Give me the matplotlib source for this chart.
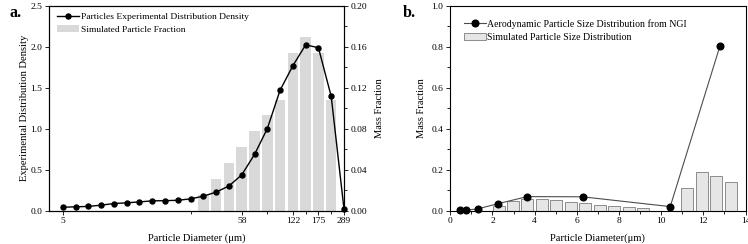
import matplotlib
matplotlib.use("Agg")
import matplotlib.pyplot as plt
import numpy as np
from matplotlib.ticker import MultipleLocator, FixedLocator

plt.rcParams['font.family'] = ['Liberation Serif', 'DejaVu Serif']
plt.rcParams['mathtext.fontset'] = 'stix'

# ---------- Panel a data ----------
a_density = [0.04, 0.045, 0.05, 0.065, 0.085, 0.094, 0.105, 0.118, 0.12, 0.125,
             0.142, 0.175, 0.225, 0.30, 0.435, 0.685, 1.0, 1.47, 1.77, 2.025,
             1.99, 1.395, 0.016]
a_bar_index = [11, 12, 13, 14, 15, 16, 17, 18, 19, 20, 21]
a_mass = [0.015, 0.031, 0.0465, 0.062, 0.0775, 0.093, 0.108, 0.1545, 0.170, 0.1545, 0.108]
a_tick_pos = [0, 14, 18, 20, 22]
a_tick_labels = ['5', '58', '122', '175', '289']
a_minor_pos = [10, 16, 19, 21]

# ---------- Panel b data ----------
b_ngi_x = [0.46, 0.76, 1.30, 2.25, 3.65, 6.27, 10.43, 12.79]
b_ngi_y = [0.002, 0.002, 0.008, 0.033, 0.068, 0.067, 0.019, 0.805]
b_sim_x = [2.31, 2.98, 3.66, 4.34, 5.02, 5.71, 6.40, 7.08, 7.77, 8.46, 9.15,
           11.23, 11.92, 12.60, 13.29]
b_sim_y = [0.020, 0.045, 0.056, 0.056, 0.050, 0.043, 0.036, 0.029, 0.021, 0.016, 0.010,
           0.110, 0.190, 0.171, 0.140]

fig = plt.figure(figsize=(7.48, 2.44), dpi=100)

tick_fs = 6.8
lab_fs = 7.6

# ---------- Panel a ----------
axa = fig.add_axes([49.3/748, 33.5/244, (344-49.3)/748, (210.5-6)/244])
axa2 = axa.twinx()
axa.set_zorder(axa2.get_zorder() + 1)
axa.patch.set_visible(False)

bars_a = axa2.bar(a_bar_index, a_mass, width=0.82, color='#d9d9d9', edgecolor='none',
                  label='Simulated Particle Fraction')
line_a, = axa.plot(range(len(a_density)), a_density, '-o', color='black', lw=1.0,
                   markersize=3.6, label='Particles Experimental Distribution Density',
                   clip_on=False)

axa.set_xlim(-1.05, 22.0)
axa.set_ylim(0, 2.5)
axa2.set_ylim(0, 0.20)
axa.yaxis.set_major_locator(MultipleLocator(0.5))
axa.yaxis.set_major_formatter(matplotlib.ticker.FormatStrFormatter('%.1f'))
axa2.yaxis.set_major_locator(MultipleLocator(0.04))
axa2.yaxis.set_minor_locator(MultipleLocator(0.02))
axa2.yaxis.set_major_formatter(matplotlib.ticker.FormatStrFormatter('%.2f'))
axa.xaxis.set_major_locator(FixedLocator(a_tick_pos))
axa.set_xticklabels(a_tick_labels)
axa.xaxis.set_minor_locator(FixedLocator(a_minor_pos))
for ax in (axa, axa2):
    ax.tick_params(axis='both', which='major', labelsize=tick_fs, length=3, width=0.6,
                   direction='out', pad=2)
    ax.tick_params(axis='both', which='minor', length=2, width=0.6, direction='out')
    for s in ax.spines.values():
        s.set_linewidth(0.8)
axa.set_xlabel('Particle Diameter (μm)', fontsize=lab_fs, labelpad=6)
axa.set_ylabel('Experimental Distribution Density', fontsize=lab_fs, labelpad=1)
axa2.set_ylabel('Mass Fraction', fontsize=lab_fs, labelpad=5)
axa.legend([line_a, bars_a], ['Particles Experimental Distribution Density',
                              'Simulated Particle Fraction'],
           loc='upper left', bbox_to_anchor=(0.0, 1.005), frameon=False, fontsize=6.8,
           handlelength=2.3, handletextpad=0.3, labelspacing=0.45, borderaxespad=0.4)
fig.text(9/748, 1 - 13/244, 'a.', fontsize=11.5, fontweight='bold', va='center', ha='left')

# ---------- Panel b ----------
axb = fig.add_axes([450.3/748, 33.5/244, (745.5-450.3)/748, (210.5-6)/244])
bars_b = axb.bar(b_sim_x, b_sim_y, width=0.57, color='#e6e6e6', edgecolor='#8c8c8c',
                 linewidth=0.7, label='Simulated Particle Size Distribution', zorder=2)
line_b, = axb.plot(b_ngi_x, b_ngi_y, '-o', color='#4d4d4d', mfc='black', mec='black',
                   lw=0.8, markersize=4.8,
                   label='Aerodynamic Particle Size Distribution from NGI', zorder=3,
                   clip_on=False)
axb.set_xlim(0, 14)
axb.set_ylim(0, 1.0)
axb.xaxis.set_major_locator(MultipleLocator(2))
axb.xaxis.set_minor_locator(MultipleLocator(1))
axb.yaxis.set_major_locator(MultipleLocator(0.2))
axb.yaxis.set_minor_locator(MultipleLocator(0.1))
axb.yaxis.set_major_formatter(matplotlib.ticker.FormatStrFormatter('%.1f'))
axb.tick_params(axis='both', which='major', labelsize=tick_fs, length=3, width=0.6,
                direction='out', pad=2)
axb.tick_params(axis='both', which='minor', length=2, width=0.6, direction='out')
for s in axb.spines.values():
    s.set_linewidth(0.8)
axb.set_xlabel('Particle Diameter(μm)', fontsize=lab_fs, labelpad=6)
axb.set_ylabel('Mass Fraction', fontsize=lab_fs, labelpad=4)
axb.legend([line_b, bars_b], ['Aerodynamic Particle Size Distribution from NGI',
                              'Simulated Particle Size Distribution'],
           loc='upper left', bbox_to_anchor=(0.02, 0.975), frameon=False, fontsize=7.1,
           handlelength=2.2, handletextpad=0.15, labelspacing=0.4, borderaxespad=0.4)
fig.text(403/748, 1 - 13/244, 'b.', fontsize=11.5, fontweight='bold', va='center', ha='left')

fig.savefig('out.png', dpi=100)
